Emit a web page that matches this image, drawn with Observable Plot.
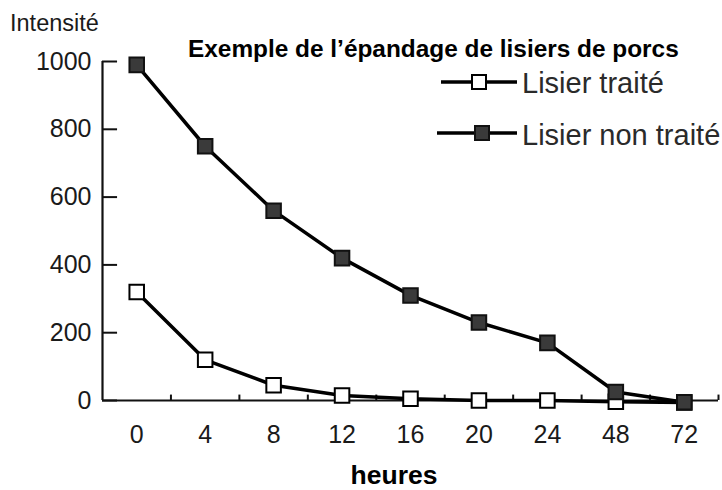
<!DOCTYPE html>
<html>
<head>
<meta charset="utf-8">
<script src="https://cdn.jsdelivr.net/npm/d3@7"></script>
<script src="https://cdn.jsdelivr.net/npm/@observablehq/plot@0.6"></script>
<style>
  html, body { margin: 0; padding: 0; background: #fff; }
  #wrap { position: relative; width: 722px; height: 490px; overflow: hidden; background: #fff; }
  #wrap > svg.overlay { position: absolute; left: 0; top: 0; pointer-events: none; }
  #chart { position: absolute; left: 0; top: 0; }
</style>
</head>
<body>
<div id="wrap">
  <div id="chart"></div>
  <svg class="overlay" width="722" height="490" font-family="Liberation Sans, Arial, Helvetica, sans-serif" fill="#1a1a1a">
    <text x="10" y="31" font-size="23.5">Intensité</text>
    <text x="188" y="57" font-size="24.4" font-weight="bold" fill="#000">Exemple de l’épandage de lisiers de porcs</text>
    <g>
      <line x1="441" x2="517" y1="82" y2="82" stroke="#000" stroke-width="3.5"/>
      <rect x="472" y="75" width="14" height="14" fill="#fff" stroke="#000" stroke-width="2"/>
      <text x="522" y="93" font-size="29" fill="#2a2a2a">Lisier traité</text>
    </g>
    <g>
      <line x1="437" x2="517" y1="133" y2="133" stroke="#000" stroke-width="3.5"/>
      <rect x="475" y="126" width="14" height="14" fill="#3a3a3a" stroke="#111" stroke-width="2"/>
      <text x="522" y="145" font-size="29" fill="#2a2a2a">Lisier non traité</text>
    </g>
    <text x="394" y="484" font-size="26.5" font-weight="bold" text-anchor="middle" fill="#000">heures</text>
  </svg>
</div>
<script>
const hours = ["0", "4", "8", "12", "16", "20", "24", "48", "72"];
const traite = [320, 120, 45, 15, 5, 0, 0, -4, -6];
const nonTraite = [990, 750, 560, 420, 310, 230, 170, 25, -5];
const yTicks = [0, 200, 400, 600, 800, 1000];

const idx = hours.map((h, i) => i);
const mids = hours.map((h, i) => i + 0.5);
const dataT = hours.map((h, i) => ({i, h, v: traite[i]}));
const dataNT = hours.map((h, i) => ({i, h, v: nonTraite[i]}));

const chart = Plot.plot({
  width: 722,
  height: 490,
  marginLeft: 102,
  marginRight: 4,
  marginTop: 61,
  marginBottom: 90,
  x: {domain: [-0.5, 8.5]},
  y: {domain: [0, 1000]},
  style: {fontFamily: "Liberation Sans, Arial, Helvetica, sans-serif", color: "#1a1a1a", background: "transparent", overflow: "visible"},
  marks: [
    Plot.ruleY([0], {x1: -0.5, x2: 8.5, stroke: "#111", strokeWidth: 2.2}),
    Plot.ruleX([-0.5], {y1: 0, y2: 1000, stroke: "#111", strokeWidth: 2.2}),
    Plot.ruleY(yTicks, {x1: -0.5, x2: -0.28, stroke: "#111", strokeWidth: 2}),
    Plot.ruleX(mids, {y1: 0, y2: 16, stroke: "#111", strokeWidth: 2}),
    Plot.axisY({ticks: yTicks, tickFormat: d => String(d), tickSize: 0, tickPadding: 11, fontSize: 25, label: null}),
    Plot.axisX({ticks: idx, tickFormat: i => hours[i], tickSize: 0, tickPadding: 25, fontSize: 25, label: null}),
    Plot.line(dataT, {x: "i", y: "v", stroke: "#000", strokeWidth: 3.5}),
    Plot.dot(dataT, {x: "i", y: "v", symbol: "square", r: 8.2, fill: "#fff", stroke: "#000", strokeWidth: 2}),
    Plot.line(dataNT, {x: "i", y: "v", stroke: "#000", strokeWidth: 3.5}),
    Plot.dot(dataNT, {x: "i", y: "v", symbol: "square", r: 8.2, fill: "#3a3a3a", stroke: "#111", strokeWidth: 2})
  ]
});
document.getElementById("chart").appendChild(chart);
</script>
</body>
</html>
